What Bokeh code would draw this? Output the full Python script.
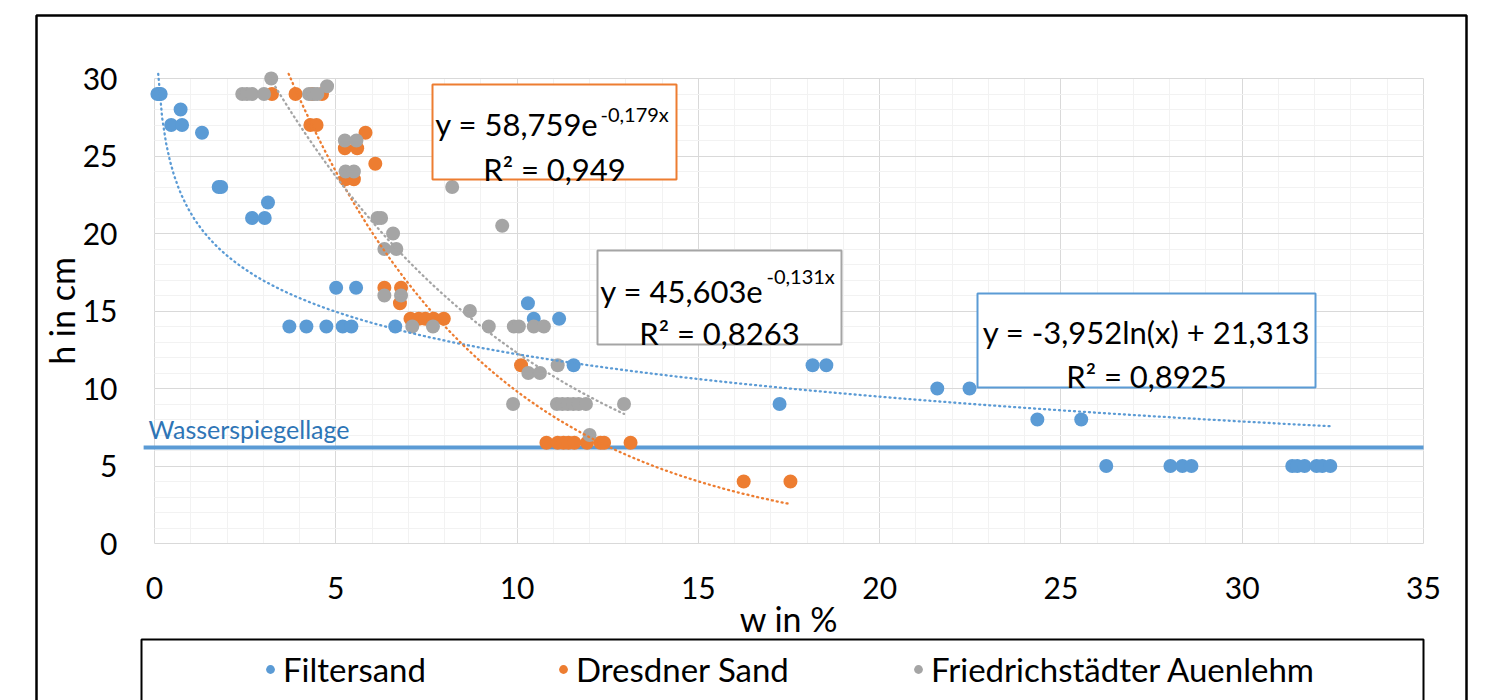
import numpy as np
from bokeh.plotting import figure
from bokeh.models import (Range1d, FixedTicker, BoxAnnotation, Label, Legend,
                          LegendItem, Grid)
from bokeh.embed import file_html
from bokeh.resources import INLINE

# ---------------- data ----------------
filtersand_w = [0.08, 0.13, 0.17, 0.72, 0.46, 0.76, 1.31, 1.77, 1.84, 3.13, 2.69, 3.04,
                5.01, 5.56, 3.72, 4.19, 4.74, 5.19, 5.43, 6.64, 10.30, 10.46, 11.16, 11.56,
                17.24, 18.15, 18.53, 21.59, 22.48, 24.35, 25.56, 26.25, 28.02, 28.35, 28.60,
                31.38, 31.52, 31.72, 32.05, 32.21, 32.43]
filtersand_h = [29, 29, 29, 28, 27, 27, 26.5, 23, 23, 22, 21, 21,
                16.5, 16.5, 14, 14, 14, 14, 14, 14, 15.5, 14.5, 14.5, 11.5,
                9, 11.5, 11.5, 10, 10, 8, 8, 5, 5, 5, 5,
                5, 5, 5, 5, 5, 5]

dresdner_w = [3.24, 3.89, 4.35, 4.62, 4.30, 4.47, 5.82, 5.25, 5.59, 6.09, 5.27, 5.50,
              6.34, 6.80, 6.77, 7.06, 7.29, 7.47, 7.70, 7.98, 10.11,
              10.81, 11.12, 11.28, 11.42, 11.58, 11.93, 12.30, 12.40, 13.13, 16.25, 17.54]
dresdner_h = [29, 29, 29, 29, 27, 27, 26.5, 25.5, 25.5, 24.5, 23.5, 23.5,
              16.5, 16.5, 15.5, 14.5, 14.5, 14.5, 14.5, 14.5, 11.5,
              6.5, 6.5, 6.5, 6.5, 6.5, 6.5, 6.5, 6.5, 6.5, 4, 4]

auenlehm_w = [3.22, 4.76, 2.42, 2.55, 2.69, 3.02, 4.26, 4.39, 4.49, 5.25, 5.57, 5.27, 5.50,
              8.21, 6.15, 6.25, 9.59, 6.58, 6.34, 6.67, 6.34, 6.80, 8.70,
              7.11, 7.68, 9.22, 9.91, 10.05, 10.46, 10.74, 11.12, 10.31, 10.63,
              9.89, 11.10, 11.25, 11.40, 11.55, 11.70, 11.90, 12.95, 12.00]
auenlehm_h = [30, 29.5, 29, 29, 29, 29, 29, 29, 29, 26, 26, 24, 24,
              23, 21, 21, 20.5, 20, 19, 19, 16, 16, 15,
              14, 14, 14, 14, 14, 14, 14, 11.5, 11, 11,
              9, 9, 9, 9, 9, 9, 9, 9, 7]

# trendline equations as printed in the chart
filtersand_log_a, filtersand_log_b = -3.952, 21.313
dresdner_exp_a, dresdner_exp_k = 58.759, -0.179
auenlehm_exp_a, auenlehm_exp_k = 45.603, -0.131

water_level = 6.2
water_w = [-0.3, 35.0]

x_ticks = [0, 5, 10, 15, 20, 25, 30, 35]
y_ticks = [0, 5, 10, 15, 20, 25, 30]
x_minor = list(range(0, 36))
y_minor = list(range(0, 31))

series_names = ["Filtersand", "Dresdner Sand", "Friedrichstädter Auenlehm"]
BLUE, ORANGE, GREY = "#5B9BD5", "#ED7D31", "#A5A5A5"

# ---------------- layout geometry (pixels) ----------------
W, H = 1494, 700
PX0, PX35 = 154, 1423
PY0, PY30 = 543, 78
KX = (PX35 - PX0) / 35.0
KY = (PY0 - PY30) / 30.0


def dx(px):
    return (px - PX0) / KX


def dy(py):
    return (PY0 - py) / KY


FONT = "Lato"

p = figure(width=W, height=H, x_range=Range1d(dx(0), dx(W)), y_range=Range1d(dy(H), dy(0)),
           output_backend="svg", toolbar_location=None, min_border=0)
p.outline_line_color = None
p.background_fill_color = "white"
p.border_fill_color = "white"

xa = p.xaxis[0]
ya = p.yaxis[0]
xa.fixed_location = 0
ya.fixed_location = 0
xa.bounds = (0, 35)
ya.bounds = (0, 30)
xa.ticker = FixedTicker(ticks=x_ticks, minor_ticks=x_minor)
ya.ticker = FixedTicker(ticks=y_ticks, minor_ticks=y_minor)
for ax in (xa, ya):
    ax.axis_line_color = None
    ax.major_tick_line_color = None
    ax.minor_tick_line_color = None
    ax.major_tick_out = 0
    ax.major_tick_in = 0
    ax.major_label_text_font = FONT
    ax.major_label_text_font_size = "30px"
    ax.major_label_text_color = "#000000"
    ax.axis_label_text_font = FONT
    ax.axis_label_text_font_size = "34px"
    ax.axis_label_text_font_style = "normal"
    ax.axis_label_text_color = "#000000"
xa.axis_label = "w in %"
ya.axis_label = "h in cm"
xa.major_label_standoff = 29
ya.major_label_standoff = 33
xa.axis_label_standoff = -4
ya.axis_label_standoff = -2

has_cross = "cross_bounds" in Grid.properties()
for g, cb in ((p.xgrid[0], (0, 30)), (p.ygrid[0], (0, 35))):
    if has_cross:
        g.cross_bounds = cb
        g.grid_line_color = "#D9D9D9"
        g.minor_grid_line_color = "#F2F2F2"
    else:
        g.visible = False
if not has_cross:
    p.segment(x0=x_minor, x1=x_minor, y0=0, y1=30, line_color="#F2F2F2")
    p.segment(x0=0, x1=35, y0=y_minor, y1=y_minor, line_color="#F2F2F2")
    p.segment(x0=x_ticks, x1=x_ticks, y0=0, y1=30, line_color="#D9D9D9")
    p.segment(x0=0, x1=35, y0=y_ticks, y1=y_ticks, line_color="#D9D9D9")

# water level line
p.line(x=water_w, y=[water_level, water_level], line_color=BLUE, line_width=4)

# scatter series
r_f = p.scatter(filtersand_w, filtersand_h, size=14, color=BLUE, line_color=None)
r_d = p.scatter(dresdner_w, dresdner_h, size=14, color=ORANGE, line_color=None)
r_a = p.scatter(auenlehm_w, auenlehm_h, size=14, color=GREY, line_color=None)

# trendlines (from the printed equations)
top = 30.3
x_start = max(min(filtersand_w), np.exp((filtersand_log_b - top) / -filtersand_log_a))
tx = np.linspace(x_start, max(filtersand_w), 300)
p.line(tx, filtersand_log_a * np.log(tx) + filtersand_log_b, line_color=BLUE,
       line_width=2.3, line_dash="1 4", line_cap="round")

x_start = max(min(dresdner_w), np.log(top / dresdner_exp_a) / dresdner_exp_k)
tx = np.linspace(x_start, max(dresdner_w), 300)
p.line(tx, dresdner_exp_a * np.exp(dresdner_exp_k * tx), line_color=ORANGE,
       line_width=2.3, line_dash="1 4", line_cap="round")

x_start = max(min(auenlehm_w), np.log(top / auenlehm_exp_a) / auenlehm_exp_k)
tx = np.linspace(x_start, max(auenlehm_w), 300)
p.line(tx, auenlehm_exp_a * np.exp(auenlehm_exp_k * tx), line_color=GREY,
       line_width=2.3, line_dash="1 4", line_cap="round")

# Wasserspiegellage label
p.add_layout(Label(x=dx(148), y=dy(428), text="Wasserspiegellage", text_font=FONT,
                   text_font_size="25px", text_color="#2E75B6", text_baseline="alphabetic"))

# equation boxes
def eq_box(l, t, r, b, color):
    p.add_layout(BoxAnnotation(left=dx(l), right=dx(r), top=dy(t), bottom=dy(b),
                               fill_color="white", fill_alpha=1.0, line_color=color,
                               line_width=2, line_alpha=1.0))


def txt(px, py, s, size="31px", align="center"):
    p.add_layout(Label(x=dx(px), y=dy(py), text=s, text_font=FONT, text_font_size=size,
                       text_color="#000000", text_align=align, text_baseline="alphabetic"))


eq_box(432, 84, 676, 179, ORANGE)
txt(598, 123, "y = 58,759e", align="right")
txt(600, 113, "-0,179x", size="20px", align="left")
txt(554, 168, "R² = 0,949")

eq_box(597, 250, 841, 344, GREY)
txt(763, 290, "y = 45,603e", align="right")
txt(766, 275, "-0,131x", size="20px", align="left")
txt(719, 332, "R² = 0,8263")

eq_box(977, 293, 1315, 387, BLUE)
txt(1146, 331, "y = -3,952ln(x) + 21,313")
txt(1146, 375, "R² = 0,8925")

# legend box and outer frame
p.add_layout(BoxAnnotation(left=dx(141), right=dx(1423), top=dy(639), bottom=dy(730),
                           fill_color=None, fill_alpha=0, line_color="#000000",
                           line_alpha=1.0, line_width=2))
p.add_layout(BoxAnnotation(left=dx(36), right=dx(1466), top=dy(15), bottom=dy(740),
                           fill_color=None, fill_alpha=0, line_color="#000000",
                           line_alpha=1.0, line_width=2.5))

# legends (one per entry, so each sits where the reference shows it)
for r, name, dot_px in ((r_f, series_names[0], 270), (r_d, series_names[1], 563),
                        (r_a, series_names[2], 918)):
    leg = Legend(items=[LegendItem(label=name, renderers=[r])], location=(dot_px - 11, H - 689),
                 orientation="horizontal", glyph_width=22, glyph_height=22, label_standoff=2,
                 padding=0, margin=0, spacing=0, border_line_color=None,
                 background_fill_alpha=0, label_text_font=FONT, label_text_font_size="33px",
                 label_text_color="#000000")
    p.add_layout(leg)

open("out.html", "w").write(file_html(p, INLINE))
